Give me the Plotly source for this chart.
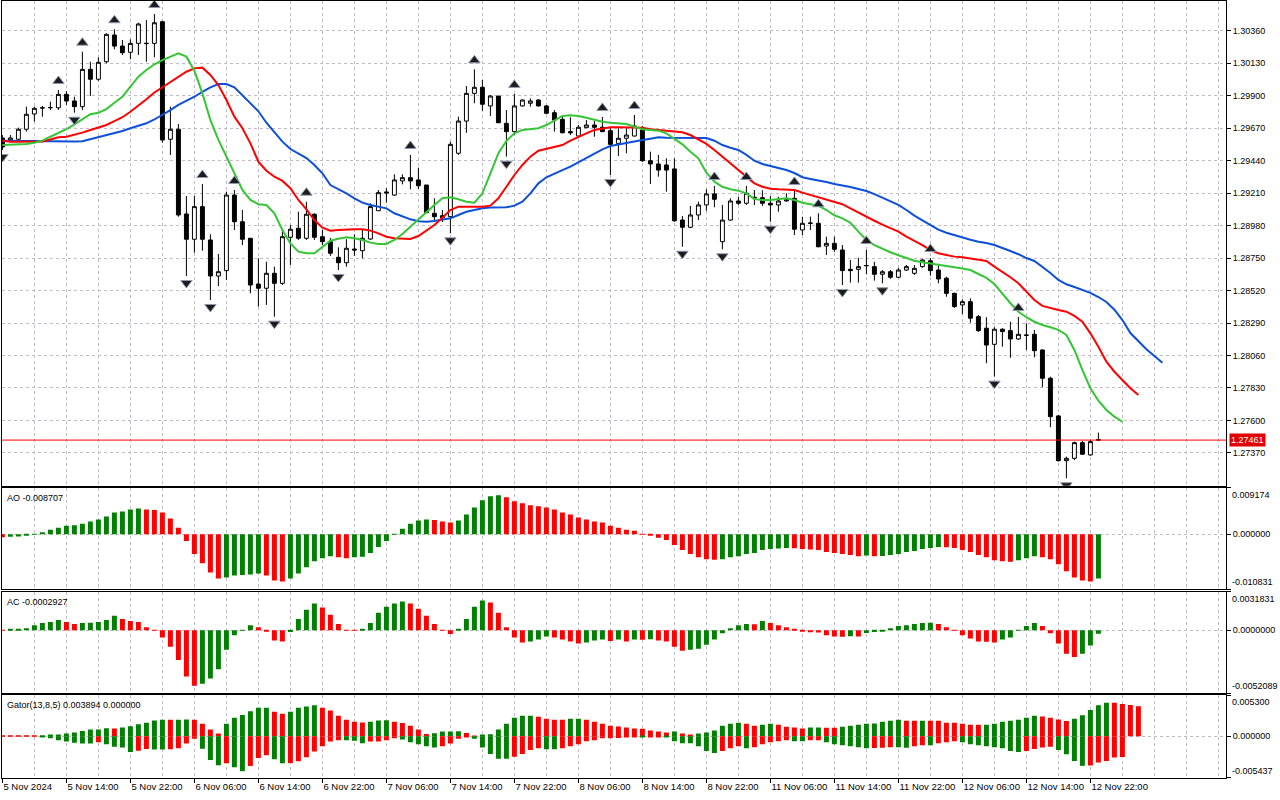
import plotly.graph_objects as go

# ---------------- DATA (GBPUSD H1, 5 Nov - 12 Nov 2024)
time_labels = ["5 Nov 2024", "5 Nov 14:00", "5 Nov 22:00", "6 Nov 06:00", "6 Nov 14:00",
               "6 Nov 22:00", "7 Nov 06:00", "7 Nov 14:00", "7 Nov 22:00", "8 Nov 06:00",
               "8 Nov 14:00", "8 Nov 22:00", "11 Nov 06:00", "11 Nov 14:00", "11 Nov 22:00",
               "12 Nov 06:00", "12 Nov 14:00", "12 Nov 22:00"]

opens = [1.29600, 1.29586, 1.29591, 1.29662, 1.29770, 1.29812, 1.29814, 1.29814, 1.29909, 1.29862,
         1.29822, 1.30086, 1.30016, 1.30140, 1.30329, 1.30251, 1.30207, 1.30270, 1.30268, 1.30270,
         1.30423, 1.29591, 1.29662, 1.29062, 1.28883, 1.29114, 1.28878, 1.28623, 1.28661, 1.29196,
         1.29007, 1.28890, 1.28566, 1.28536, 1.28642, 1.28571, 1.28897, 1.28961, 1.28890, 1.29060,
         1.28901, 1.28866, 1.28755, 1.28717, 1.28814, 1.28802, 1.28885, 1.29085, 1.29218, 1.29196,
         1.29296, 1.29319, 1.29303, 1.29267, 1.29067, 1.29050, 1.29043, 1.29492, 1.29720, 1.29916,
         1.29959, 1.29827, 1.29897, 1.29704, 1.29645, 1.29827, 1.29846, 1.29869, 1.29827, 1.29779,
         1.29732, 1.29645, 1.29614, 1.29673, 1.29692, 1.29676, 1.29652, 1.29562, 1.29598, 1.29614,
         1.29657, 1.29439, 1.29416, 1.29409, 1.29381, 1.29019, 1.28968, 1.29055, 1.29126, 1.29204,
         1.28866, 1.29019, 1.29154, 1.29138, 1.29180, 1.29177, 1.29138, 1.29126, 1.29154, 1.29173,
         1.28949, 1.28998, 1.28996, 1.28835, 1.28854, 1.28807, 1.28670, 1.28670, 1.28697, 1.28689,
         1.28635, 1.28653, 1.28614, 1.28665, 1.28642, 1.28689, 1.28731, 1.28665, 1.28607, 1.28500,
         1.28418, 1.28441, 1.28335, 1.28253, 1.28139, 1.28246, 1.28236, 1.28177, 1.28205, 1.28210,
         1.28099, 1.27899, 1.27632, 1.27315, 1.27332, 1.27443, 1.27356, 1.27465]
highs = [1.29621, 1.29621, 1.29673, 1.29822, 1.29822, 1.29827, 1.29857, 1.29940, 1.29932, 1.29892,
         1.30211, 1.30140, 1.30171, 1.30341, 1.30370, 1.30294, 1.30299, 1.30416, 1.30435, 1.30478,
         1.30430, 1.29822, 1.29699, 1.29189, 1.29189, 1.29274, 1.28918, 1.28779, 1.29220, 1.29232,
         1.29090, 1.28890, 1.28748, 1.28724, 1.28689, 1.28949, 1.28984, 1.29078, 1.29149, 1.29067,
         1.28949, 1.28892, 1.28826, 1.28883, 1.28918, 1.28949, 1.29138, 1.29232, 1.29244, 1.29343,
         1.29343, 1.29480, 1.29390, 1.29267, 1.29173, 1.29090, 1.29574, 1.29751, 1.29968, 1.30086,
         1.30011, 1.29904, 1.29897, 1.29798, 1.29912, 1.29874, 1.29881, 1.29874, 1.29834, 1.29798,
         1.29751, 1.29747, 1.29692, 1.29727, 1.29720, 1.29749, 1.29680, 1.29669, 1.29669, 1.29763,
         1.29685, 1.29503, 1.29480, 1.29456, 1.29456, 1.29048, 1.29119, 1.29149, 1.29237, 1.29260,
         1.29126, 1.29173, 1.29184, 1.29260, 1.29232, 1.29230, 1.29189, 1.29184, 1.29209, 1.29225,
         1.29043, 1.29043, 1.29067, 1.28901, 1.28901, 1.28842, 1.28736, 1.28752, 1.28807, 1.28724,
         1.28665, 1.28665, 1.28680, 1.28701, 1.28701, 1.28743, 1.28750, 1.28708, 1.28618, 1.28505,
         1.28458, 1.28465, 1.28347, 1.28331, 1.28260, 1.28253, 1.28299, 1.28333, 1.28288, 1.28241,
         1.28104, 1.27910, 1.27639, 1.27344, 1.27450, 1.27455, 1.27462, 1.27514]
lows = [1.29515, 1.29572, 1.29586, 1.29645, 1.29715, 1.29751, 1.29798, 1.29798, 1.29834, 1.29779,
        1.29798, 1.29897, 1.30004, 1.30129, 1.30228, 1.30188, 1.30157, 1.30188, 1.30140, 1.30171,
        1.29567, 1.29480, 1.29043, 1.28623, 1.28788, 1.28802, 1.28453, 1.28552, 1.28595, 1.28949,
        1.28842, 1.28500, 1.28406, 1.28418, 1.28335, 1.28559, 1.28701, 1.28878, 1.28878, 1.28878,
        1.28842, 1.28765, 1.28665, 1.28689, 1.28765, 1.28748, 1.28878, 1.29083, 1.29142, 1.29189,
        1.29272, 1.29237, 1.29239, 1.29069, 1.29015, 1.29005, 1.28925, 1.29480, 1.29637, 1.29846,
        1.29793, 1.29756, 1.29706, 1.29468, 1.29621, 1.29822, 1.29822, 1.29822, 1.29768, 1.29645,
        1.29633, 1.29621, 1.29609, 1.29671, 1.29609, 1.29642, 1.29338, 1.29473, 1.29492, 1.29610,
        1.29430, 1.29274, 1.29326, 1.29220, 1.29007, 1.28830, 1.28961, 1.29019, 1.29085, 1.29109,
        1.28812, 1.29014, 1.29126, 1.29126, 1.29126, 1.29119, 1.29007, 1.29078, 1.29150, 1.28913,
        1.28913, 1.28949, 1.28826, 1.28772, 1.28793, 1.28559, 1.28576, 1.28576, 1.28635, 1.28590,
        1.28571, 1.28602, 1.28609, 1.28658, 1.28630, 1.28680, 1.28625, 1.28571, 1.28476, 1.28396,
        1.28354, 1.28292, 1.28226, 1.28005, 1.27910, 1.28122, 1.28044, 1.28170, 1.28099, 1.28047,
        1.27835, 1.27552, 1.27310, 1.27191, 1.27320, 1.27356, 1.27349, 1.27458]
closes = [1.29536, 1.29600, 1.29662, 1.29768, 1.29810, 1.29814, 1.29816, 1.29909, 1.29862, 1.29822,
          1.30086, 1.30016, 1.30136, 1.30334, 1.30251, 1.30204, 1.30270, 1.30407, 1.30270, 1.30416,
          1.29586, 1.29662, 1.29055, 1.28883, 1.29114, 1.28883, 1.28623, 1.28653, 1.29196, 1.29007,
          1.28883, 1.28559, 1.28536, 1.28642, 1.28571, 1.28901, 1.28954, 1.28890, 1.29060, 1.28897,
          1.28866, 1.28784, 1.28717, 1.28819, 1.28807, 1.28890, 1.29114, 1.29213, 1.29211, 1.29303,
          1.29319, 1.29296, 1.29262, 1.29071, 1.29043, 1.29036, 1.29555, 1.29720, 1.29916, 1.29959,
          1.29839, 1.29897, 1.29708, 1.29645, 1.29827, 1.29869, 1.29862, 1.29827, 1.29775, 1.29727,
          1.29637, 1.29637, 1.29676, 1.29692, 1.29676, 1.29645, 1.29555, 1.29598, 1.29621, 1.29685,
          1.29439, 1.29416, 1.29373, 1.29373, 1.29014, 1.28968, 1.29055, 1.29126, 1.29204, 1.29166,
          1.29019, 1.29154, 1.29138, 1.29209, 1.29177, 1.29138, 1.29126, 1.29154, 1.29161, 1.28954,
          1.28996, 1.28996, 1.28830, 1.28854, 1.28812, 1.28661, 1.28661, 1.28689, 1.28696, 1.28635,
          1.28653, 1.28614, 1.28665, 1.28689, 1.28677, 1.28736, 1.28661, 1.28602, 1.28500, 1.28406,
          1.28441, 1.28324, 1.28236, 1.28134, 1.28246, 1.28229, 1.28177, 1.28210, 1.28203, 1.28094,
          1.27899, 1.27627, 1.27315, 1.27332, 1.27443, 1.27361, 1.27450, 1.27461]

# Alligator (13,8,5) - already shifted forward by 8/5/3 bars
jaw = [1.29581, 1.29580, 1.29579, 1.29579, 1.29579, 1.29577, 1.29575, 1.29574, 1.29574, 1.29575,
       1.29577, 1.29591, 1.29609, 1.29621, 1.29633, 1.29650, 1.29669, 1.29685, 1.29704, 1.29731,
       1.29763, 1.29798, 1.29834, 1.29862, 1.29892, 1.29926, 1.29959, 1.29982, 1.29982, 1.29959,
       1.29904, 1.29850, 1.29789, 1.29708, 1.29637, 1.29574, 1.29522, 1.29487, 1.29458, 1.29409,
       1.29350, 1.29267, 1.29239, 1.29208, 1.29173, 1.29142, 1.29126, 1.29114, 1.29102, 1.29067,
       1.29043, 1.29024, 1.29010, 1.29007, 1.29012, 1.29019, 1.29031, 1.29055, 1.29078, 1.29090,
       1.29102, 1.29107, 1.29109, 1.29109, 1.29121, 1.29149, 1.29208, 1.29279, 1.29322, 1.29350,
       1.29373, 1.29397, 1.29428, 1.29463, 1.29492, 1.29520, 1.29543, 1.29555, 1.29567, 1.29574,
       1.29586, 1.29595, 1.29605, 1.29602, 1.29602, 1.29602, 1.29602, 1.29602, 1.29600, 1.29581,
       1.29550, 1.29531, 1.29515, 1.29480, 1.29439, 1.29416, 1.29402, 1.29388, 1.29373, 1.29352,
       1.29322, 1.29310, 1.29300, 1.29288, 1.29274, 1.29265, 1.29253, 1.29239, 1.29225, 1.29203,
       1.29177, 1.29147, 1.29126, 1.29090, 1.29050, 1.29017, 1.28982, 1.28951, 1.28929, 1.28911,
       1.28897, 1.28880, 1.28866, 1.28857, 1.28842, 1.28823, 1.28800, 1.28777, 1.28750, 1.28729,
       1.28689, 1.28644, 1.28595, 1.28564, 1.28545, 1.28524, 1.28503, 1.28474, 1.28439, 1.28384,
       1.28311, 1.28219, 1.28158, 1.28104, 1.28057, 1.28009]
teeth = [1.29581, 1.29574, 1.29574, 1.29574, 1.29574, 1.29575, 1.29589, 1.29605, 1.29609, 1.29621,
         1.29638, 1.29657, 1.29676, 1.29692, 1.29720, 1.29747, 1.29786, 1.29827, 1.29874, 1.29922,
         1.29959, 1.29991, 1.30030, 1.30069, 1.30093, 1.30098, 1.30046, 1.29975, 1.29869, 1.29751,
         1.29669, 1.29562, 1.29432, 1.29368, 1.29326, 1.29296, 1.29244, 1.29161, 1.29095, 1.29019,
         1.28965, 1.28944, 1.28949, 1.28954, 1.28954, 1.28954, 1.28944, 1.28925, 1.28901, 1.28890,
         1.28885, 1.28885, 1.28906, 1.28944, 1.28984, 1.29036, 1.29090, 1.29114, 1.29114, 1.29114,
         1.29114, 1.29121, 1.29173, 1.29255, 1.29338, 1.29409, 1.29468, 1.29510, 1.29524, 1.29534,
         1.29550, 1.29581, 1.29609, 1.29633, 1.29657, 1.29669, 1.29676, 1.29676, 1.29676, 1.29676,
         1.29673, 1.29662, 1.29657, 1.29650, 1.29647, 1.29640, 1.29621, 1.29591, 1.29558, 1.29515,
         1.29468, 1.29416, 1.29373, 1.29322, 1.29279, 1.29255, 1.29241, 1.29237, 1.29234, 1.29232,
         1.29213, 1.29196, 1.29180, 1.29161, 1.29147, 1.29131, 1.29102, 1.29071, 1.29043, 1.29014,
         1.28986, 1.28961, 1.28937, 1.28901, 1.28873, 1.28842, 1.28807, 1.28784, 1.28772, 1.28760,
         1.28755, 1.28748, 1.28741, 1.28729, 1.28689, 1.28653, 1.28614, 1.28571, 1.28512, 1.28453,
         1.28411, 1.28394, 1.28382, 1.28370, 1.28340, 1.28299, 1.28217, 1.28122, 1.28016, 1.27945,
         1.27887, 1.27828, 1.27780]
lips = [1.29550, 1.29553, 1.29555, 1.29558, 1.29567, 1.29581, 1.29609, 1.29638, 1.29662, 1.29697,
        1.29732, 1.29768, 1.29779, 1.29805, 1.29850, 1.29892, 1.29963, 1.30034, 1.30081, 1.30122,
        1.30152, 1.30176, 1.30200, 1.30176, 1.30076, 1.29916, 1.29727, 1.29586, 1.29468, 1.29354,
        1.29232, 1.29161, 1.29131, 1.29126, 1.29067, 1.28949, 1.28854, 1.28795, 1.28784, 1.28784,
        1.28830, 1.28873, 1.28887, 1.28897, 1.28890, 1.28878, 1.28859, 1.28850, 1.28850, 1.28878,
        1.28920, 1.28972, 1.29024, 1.29078, 1.29126, 1.29173, 1.29180, 1.29166, 1.29149, 1.29142,
        1.29208, 1.29350, 1.29492, 1.29579, 1.29633, 1.29657, 1.29662, 1.29669, 1.29692, 1.29727,
        1.29756, 1.29761, 1.29756, 1.29744, 1.29727, 1.29715, 1.29708, 1.29704, 1.29699, 1.29680,
        1.29662, 1.29657, 1.29652, 1.29633, 1.29595, 1.29555, 1.29503, 1.29456, 1.29354, 1.29291,
        1.29255, 1.29237, 1.29227, 1.29208, 1.29168, 1.29161, 1.29161, 1.29166, 1.29173, 1.29161,
        1.29142, 1.29131, 1.29121, 1.29090, 1.29053, 1.29031, 1.29000, 1.28937, 1.28878, 1.28842,
        1.28816, 1.28791, 1.28770, 1.28748, 1.28731, 1.28720, 1.28710, 1.28701, 1.28694, 1.28685,
        1.28676, 1.28665, 1.28637, 1.28609, 1.28566, 1.28496, 1.28430, 1.28370, 1.28331, 1.28299,
        1.28276, 1.28260, 1.28241, 1.28205, 1.28099, 1.27957, 1.27828, 1.27740, 1.27674, 1.27627,
        1.27591]

fractal_up = [7, 10, 14, 19, 25, 29, 38, 51, 59, 64, 75, 79, 89, 93, 99, 102, 108, 116, 127]
fractal_down = [0, 9, 23, 26, 34, 42, 56, 63, 76, 85, 90, 96, 105, 110, 124, 133]

ao = [-0.0006, -0.0005, -0.00045, -0.0003, 0.00005, 0.0004, 0.0009, 0.0013, 0.0017, 0.0018,
      0.0021, 0.0025, 0.0029, 0.0035, 0.0043, 0.0045, 0.0049, 0.0051, 0.0049, 0.0048,
      0.0043, 0.0031, 0.0013, -0.0013, -0.0039, -0.0057, -0.0075, -0.0087, -0.0085, -0.0081,
      -0.0080, -0.0079, -0.0077, -0.0081, -0.0091, -0.0093, -0.0087, -0.0077, -0.0065, -0.0053,
      -0.0047, -0.0043, -0.0045, -0.0047, -0.0045, -0.0044, -0.0037, -0.0025, -0.0013, 0.00005,
      0.0011, 0.0021, 0.0027, 0.0029, 0.0028, 0.0025, 0.0023, 0.0027, 0.0039, 0.0053,
      0.0067, 0.0075, 0.0077, 0.0073, 0.0065, 0.0061, 0.0057, 0.0055, 0.0053, 0.0049,
      0.0043, 0.0039, 0.0033, 0.0029, 0.0025, 0.0023, 0.0017, 0.0013, 0.0009, 0.0007,
      0.0001, -0.0001, -0.0007, -0.0011, -0.0021, -0.0031, -0.0039, -0.0045, -0.0049, -0.0050,
      -0.0049, -0.0045, -0.0043, -0.0039, -0.0037, -0.0031, -0.0029, -0.0028, -0.0027, -0.00275,
      -0.0029, -0.0030, -0.0031, -0.0035, -0.0037, -0.0039, -0.0041, -0.0043, -0.0042, -0.0043,
      -0.00425, -0.0041, -0.0039, -0.0035, -0.0033, -0.0029, -0.0027, -0.0025, -0.00255, -0.0027,
      -0.0031, -0.0035, -0.0041, -0.0045, -0.0051, -0.0053, -0.0054, -0.0051, -0.0047, -0.0043,
      -0.0045, -0.0049, -0.0059, -0.0073, -0.0085, -0.0091, -0.0093, -0.008707]

ac = [0.00003, 0.00008, 0.0001, 0.00017, 0.00042, 0.0006, 0.00068, 0.00085, 0.00068, 0.00051,
      0.0006, 0.00062, 0.00068, 0.00085, 0.00119, 0.00093, 0.00076, 0.00068, 0.00025, -0.00003,
      -0.0006, -0.00136, -0.00246, -0.00382, -0.00458, -0.00441, -0.00399, -0.00323, -0.00161, -0.00042,
      0.00003, 0.00042, 0.00025, -0.0001, -0.00085, -0.00093, -0.00014, 0.00093, 0.0017, 0.0022,
      0.00187, 0.00127, 0.00051, 0.00002, -0.00001, 0.00008, 0.0006, 0.00144, 0.00195, 0.0022,
      0.00238, 0.0022, 0.00178, 0.00119, 0.00051, 0.00001, -0.00031, 0.00008, 0.00093, 0.00195,
      0.00246, 0.00229, 0.00144, 0.00025, -0.0006, -0.00102, -0.00093, -0.00076, -0.00051, -0.0006,
      -0.00076, -0.00093, -0.0011, -0.00102, -0.00085, -0.00076, -0.00088, -0.00076, -0.00093, -0.00076,
      -0.00078, -0.00074, -0.00085, -0.00093, -0.00136, -0.0017, -0.00161, -0.00153, -0.00119, -0.00076,
      -0.00025, 0.00017, 0.00042, 0.00051, 0.0005, 0.00076, 0.0006, 0.00042, 0.00025, 0.00008,
      -0.00006, -0.00017, -0.00018, -0.00042, -0.00051, -0.00053, -0.0005, -0.00051, -0.00023, -0.00014,
      -0.00006, 0.00017, 0.00034, 0.00042, 0.00051, 0.0006, 0.00062, 0.00051, 0.00025, -0.00003,
      -0.00042, -0.00068, -0.00093, -0.00095, -0.00102, -0.00076, -0.0006, 0.00002, 0.00034, 0.0006,
      0.00034, -0.00025, -0.0011, -0.00195, -0.00221, -0.00195, -0.00127, -0.0002927]

gator_up = [0.00005, 0.00004, 0.00003, 0.00002, 0.00001, 0.00004, 0.00012, 0.00021, 0.00034, 0.00047,
            0.00069, 0.00086, 0.00087, 0.00103, 0.00102, 0.00112, 0.00129, 0.00155, 0.00176, 0.00206,
            0.00215, 0.00213, 0.00215, 0.00217, 0.00215, 0.00163, 0.00086, 0.00034, 0.00163, 0.00240,
            0.00275, 0.00326, 0.00369, 0.00370, 0.00318, 0.00292, 0.00318, 0.00369, 0.00387, 0.00404,
            0.00369, 0.00335, 0.00266, 0.00215, 0.00189, 0.00180, 0.00189, 0.00206, 0.00207, 0.00189,
            0.00172, 0.00137, 0.00086, 0.00030, 0.00039, 0.00060, 0.00062, 0.00064, 0.00043, 0.00009,
            0.00015, 0.00026, 0.00086, 0.00163, 0.00240, 0.00266, 0.00267, 0.00253, 0.00228, 0.00215,
            0.00213, 0.00228, 0.00229, 0.00215, 0.00189, 0.00163, 0.00137, 0.00125, 0.00112, 0.00099,
            0.00097, 0.00073, 0.00060, 0.00047, 0.00060, 0.00034, 0.00010, 0.00034, 0.00047, 0.00073,
            0.00137, 0.00163, 0.00176, 0.00163, 0.00137, 0.00150, 0.00163, 0.00150, 0.00124, 0.00112,
            0.00099, 0.00112, 0.00113, 0.00111, 0.00110, 0.00124, 0.00137, 0.00150, 0.00163, 0.00164,
            0.00189, 0.00202, 0.00215, 0.00202, 0.00201, 0.00203, 0.00202, 0.00201, 0.00176, 0.00175,
            0.00163, 0.00150, 0.00149, 0.00150, 0.00163, 0.00189, 0.00202, 0.00215, 0.00240, 0.00266,
            0.00257, 0.00240, 0.00218, 0.00197, 0.00227, 0.00274, 0.00342, 0.00402, 0.00437, 0.00435,
            0.00419, 0.00407, 0.003894]
gator_down = [-0.00003, -0.00002, -0.00002, -0.00001, -0.00001, -0.00004, -0.00026, -0.00052, -0.00069, -0.00086,
              -0.00094, -0.00096, -0.00077, -0.00103, -0.00137, -0.00146, -0.00206, -0.00189, -0.00165, -0.00172,
              -0.00174, -0.00170, -0.00155, -0.00095, -0.00034, -0.00163, -0.00309, -0.00378, -0.00352, -0.00404,
              -0.00455, -0.00387, -0.00284, -0.00249, -0.00301, -0.00352, -0.00350, -0.00327, -0.00275, -0.00198,
              -0.00129, -0.00069, -0.00052, -0.00053, -0.00060, -0.00090, -0.00069, -0.00068, -0.00052, -0.00026,
              -0.00043, -0.00077, -0.00103, -0.00129, -0.00146, -0.00129, -0.00095, -0.00034, -0.00017, -0.00034,
              -0.00146, -0.00232, -0.00292, -0.00293, -0.00266, -0.00232, -0.00180, -0.00155, -0.00168, -0.00170,
              -0.00155, -0.00129, -0.00103, -0.00064, -0.00052, -0.00026, -0.00025, -0.00024, -0.00013, -0.00012,
              -0.00014, -0.00012, -0.00004, -0.00013, -0.00064, -0.00090, -0.00092, -0.00129, -0.00193, -0.00219,
              -0.00193, -0.00155, -0.00129, -0.00155, -0.00142, -0.00103, -0.00077, -0.00064, -0.00052, -0.00064,
              -0.00065, -0.00052, -0.00051, -0.00077, -0.00103, -0.00116, -0.00129, -0.00142, -0.00155, -0.00154,
              -0.00150, -0.00142, -0.00145, -0.00150, -0.00129, -0.00116, -0.00118, -0.00090, -0.00077, -0.00064,
              -0.00077, -0.00103, -0.00116, -0.00129, -0.00142, -0.00155, -0.00193, -0.00206, -0.00193, -0.00167,
              -0.00146, -0.00137, -0.00180, -0.00235, -0.00321, -0.00385, -0.00381, -0.00342, -0.00321, -0.00278,
              -0.00270]

price_ticks = [1.27370, 1.27600, 1.27830, 1.28060, 1.28290, 1.28520, 1.28750,
               1.28980, 1.29210, 1.29440, 1.29670, 1.29900, 1.30130, 1.30360]
main_range = [1.27138, 1.30570]
ao_range = [-0.010831, 0.009174]
ac_range = [-0.0052089, 0.0031831]
gator_range = [-0.005437, 0.005300]

# ---------------- STYLE
FONT = "Liberation Sans"
GRID = "#c2bac8"
GREEN = "#008000"
RED = "#ff0000"
H = 800
MARGIN = dict(l=2, r=54, t=1, b=22)
dom_main = [0.37619, 1.0]
dom_ao = [0.24286, 0.37362]
dom_ac = [0.10901, 0.23977]
dom_gator = [0.0, 0.10618]


def trend_colors(vals, use_abs=False):
    cols = []
    for k, v in enumerate(vals):
        prev = vals[k - 1] if k else v
        if use_abs:
            v, prev = abs(v), abs(prev)
        cols.append(GREEN if v > prev else RED)
    return cols


bars = list(range(len(opens)))
plot_h = H - MARGIN["t"] - MARGIN["b"]
ppx = (main_range[1] - main_range[0]) / ((dom_main[1] - dom_main[0]) * plot_h)

fig = go.Figure()

fig.add_trace(go.Candlestick(
    x=bars, open=opens, high=highs, low=lows, close=closes,
    increasing=dict(line=dict(color="black", width=1), fillcolor="white"),
    decreasing=dict(line=dict(color="black", width=1), fillcolor="black"),
    whiskerwidth=0, hoverinfo="skip", xaxis="x", yaxis="y"))

for vals, col in ((jaw, "#0c4fd8"), (teeth, "#ff0000"), (lips, "#34c634")):
    fig.add_trace(go.Scatter(x=list(range(len(vals))), y=vals, mode="lines",
                             line=dict(color=col, width=2), hoverinfo="skip",
                             xaxis="x", yaxis="y"))

frac_marker = dict(size=10, color="#1c1c1c", line=dict(color="#8f9ab0", width=1))
fig.add_trace(go.Scatter(
    x=fractal_up, y=[highs[k] + 9 * ppx for k in fractal_up], mode="markers",
    marker=dict(symbol="triangle-up", **frac_marker), hoverinfo="skip", xaxis="x", yaxis="y"))
fig.add_trace(go.Scatter(
    x=fractal_down, y=[lows[k] - 7 * ppx for k in fractal_down], mode="markers",
    marker=dict(symbol="triangle-down", **frac_marker), hoverinfo="skip", xaxis="x", yaxis="y"))

fig.add_trace(go.Bar(x=bars, y=ao, width=0.62, marker=dict(color=trend_colors(ao), line_width=0),
                     hoverinfo="skip", xaxis="x2", yaxis="y2"))
fig.add_trace(go.Bar(x=bars, y=ac, width=0.62, marker=dict(color=trend_colors(ac), line_width=0),
                     hoverinfo="skip", xaxis="x3", yaxis="y3"))
fig.add_trace(go.Bar(x=list(range(len(gator_up))), y=gator_up, width=0.62,
                     marker=dict(color=trend_colors(gator_up), line_width=0),
                     hoverinfo="skip", xaxis="x4", yaxis="y4"))
fig.add_trace(go.Bar(x=list(range(len(gator_down))), y=gator_down, width=0.62,
                     marker=dict(color=trend_colors(gator_down, True), line_width=0),
                     hoverinfo="skip", xaxis="x4", yaxis="y4"))

label_pos = list(range(0, 8 * len(time_labels), 8))
tick_font = dict(family=FONT, size=9, color="black")


def x_axis(anchor, labels):
    ax = dict(anchor=anchor, domain=[0, 1], range=[-0.05, 152.95], tickmode="array",
              tickvals=label_pos, showgrid=True, gridcolor=GRID, griddash="3px,3px", gridwidth=1,
              zeroline=False, showline=True, mirror=True, linecolor="black", linewidth=1,
              minor=dict(tickmode="linear", tick0=0, dtick=4, showgrid=True,
                         gridcolor=GRID, griddash="3px,3px", gridwidth=1),
              rangeslider=dict(visible=False), fixedrange=True)
    if labels:
        ax.update(ticktext=time_labels, ticks="outside", ticklen=4, tickcolor="black",
                  tickangle=0, ticklabelposition="outside right",
                  tickfont=dict(family=FONT, size=9.5, color="black"))
    else:
        ax.update(showticklabels=False, ticks="")
    return ax


def y_axis(anchor, domain, rng, vals, texts):
    return dict(anchor=anchor, domain=domain, range=rng, side="right", tickmode="array",
                tickvals=vals, ticktext=texts, showgrid=True, gridcolor=GRID,
                griddash="3px,3px", gridwidth=1, zeroline=False, ticks="outside", ticklen=4,
                tickcolor="black", showline=True, mirror=True, linecolor="black", linewidth=1,
                tickfont=tick_font, fixedrange=True)


fig.update_layout(
    width=1280, height=H, margin=MARGIN, showlegend=False, barmode="overlay",
    plot_bgcolor="white", paper_bgcolor="white",
    xaxis=x_axis("y", False), xaxis2=x_axis("y2", False),
    xaxis3=x_axis("y3", False), xaxis4=x_axis("y4", True),
    yaxis=y_axis("x", dom_main, main_range, price_ticks, [f"{v:.5f}" for v in price_ticks]),
    yaxis2=y_axis("x2", dom_ao, ao_range, [ao_range[0], 0, ao_range[1]], ["", "0.000000", ""]),
    yaxis3=y_axis("x3", dom_ac, ac_range, [ac_range[0], 0, ac_range[1]], ["", "0.0000000", ""]),
    yaxis4=y_axis("x4", dom_gator, gator_range, [gator_range[0], 0, gator_range[1]], ["", "0.000000", ""]),
)

# extreme values of the indicator windows, written inside the pane edges like MT5
ann_font = dict(family=FONT, size=9, color="black")
for yref, rng, fmt in (("y2", ao_range, "{:.6f}"), ("y3", ac_range, "{:.7f}"), ("y4", gator_range, "{:.6f}")):
    fig.add_annotation(x=1, xref="paper", xanchor="left", xshift=4, y=rng[1], yref=yref,
                       yanchor="top", text=fmt.format(rng[1]), showarrow=False, font=ann_font)
    fig.add_annotation(x=1, xref="paper", xanchor="left", xshift=4, y=rng[0], yref=yref,
                       yanchor="bottom", text=fmt.format(rng[0]), showarrow=False, font=ann_font)

# indicator captions
for yref, text in (("y2 domain", f"AO {ao[-1]:.6f}"),
                   ("y3 domain", f"AC {ac[-1]:.7f}"),
                   ("y4 domain", f"Gator(13,8,5) {gator_up[-1]:.6f} {0:.6f}")):
    fig.add_annotation(x=0, xref="paper", xanchor="left", xshift=3, y=1, yref=yref,
                       yanchor="top", yshift=-3, text=text, showarrow=False, font=ann_font)

# current price line and tag
fig.add_shape(type="line", xref="paper", x0=0, x1=1, yref="y", y0=closes[-1], y1=closes[-1],
              line=dict(color="#ff0000", width=1))
fig.add_annotation(x=1, xref="paper", xanchor="left", xshift=3, y=closes[-1], yref="y",
                   text=f"{closes[-1]:.5f}", showarrow=False, bgcolor="#e00000", borderpad=1,
                   font=dict(family=FONT, size=9, color="white"))

# the page's default body margin would push the 1280x800 figure off-screen
fig.write_html("out.html", config={"displayModeBar": False},
               post_script="document.body.style.margin='0px';")
